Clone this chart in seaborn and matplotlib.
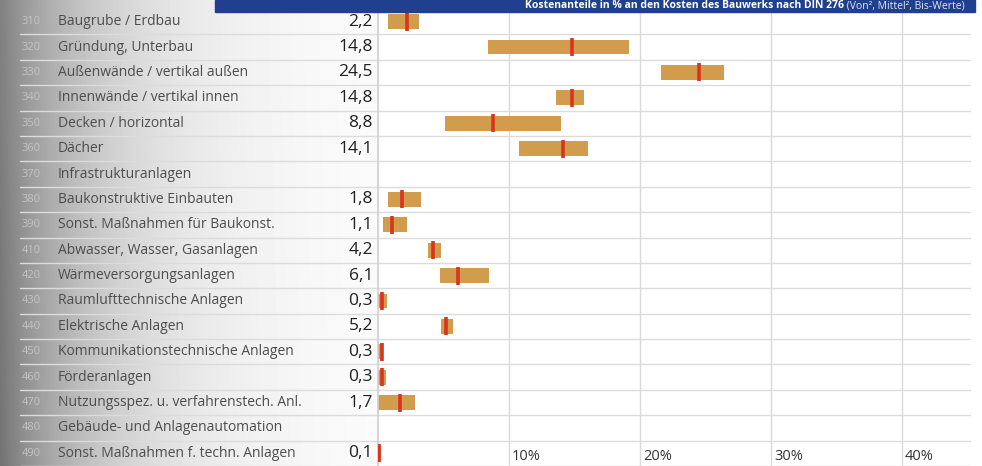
import numpy as np
import pandas as pd
import matplotlib
matplotlib.use("Agg")
import matplotlib.pyplot as plt
import seaborn as sns
from matplotlib.patches import Rectangle
from matplotlib.transforms import blended_transform_factory, ScaledTranslation

# ---------------- data ----------------
codes = ["310", "320", "330", "340", "350", "360", "370", "380", "390",
         "410", "420", "430", "440", "450", "460", "470", "480", "490"]
names = ["Baugrube / Erdbau", "Gründung, Unterbau", "Außenwände / vertikal außen",
         "Innenwände / vertikal innen", "Decken / horizontal", "Dächer",
         "Infrastrukturanlagen", "Baukonstruktive Einbauten",
         "Sonst. Maßnahmen für Baukonst.", "Abwasser, Wasser, Gasanlagen",
         "Wärmeversorgungsanlagen", "Raumlufttechnische Anlagen",
         "Elektrische Anlagen", "Kommunikationstechnische Anlagen",
         "Förderanlagen", "Nutzungsspez. u. verfahrenstech. Anl.",
         "Gebäude- und Anlagenautomation", "Sonst. Maßnahmen f. techn. Anlagen"]
nan = np.nan
von = [0.8, 8.4, 21.6, 13.6, 5.1, 10.8, nan, 0.8, 0.4, 3.8, 4.7, 0.0, 4.8, 0.0, 0.0, 0.0, nan, 0.0]
bis = [3.1, 19.2, 26.4, 15.7, 14.0, 16.0, nan, 3.3, 2.2, 4.8, 8.5, 0.65, 5.7, 0.35, 0.6, 2.8, nan, 0.2]
mittel = [2.2, 14.8, 24.5, 14.8, 8.8, 14.1, nan, 1.8, 1.1, 4.2, 6.1, 0.3, 5.2, 0.3, 0.3, 1.7, nan, 0.1]
xticks = [10, 20, 30, 40]
xtick_labels = ["10%", "20%", "30%", "40%"]
title_bold = "Kostenanteile in % an den Kosten des Bauwerks nach DIN 276"
title_light = " (Von², Mittel², Bis-Werte)"

# ---------------- frame ----------------
labels = [f"{c} {n}" for c, n in zip(codes, names)]
df = pd.DataFrame({"label": labels, "code": codes, "name": names,
                   "von": von, "bis": bis, "mittel": mittel})
df["start"] = df["von"].fillna(0.0)
df["span"] = (df["bis"] - df["von"]).fillna(0.0)

sns.set_theme(style="white")
plt.rcParams["font.family"] = ["Open Sans", "DejaVu Sans"]

W, H, DPI = 982, 466, 100
fig = plt.figure(figsize=(W / DPI, H / DPI), dpi=DPI)
fig.patch.set_facecolor("white")

# scanned-paper shading at the left
bg = fig.add_axes([0, 0, 380 / W, 1], zorder=-5)
xs = np.linspace(0, 380, 380)
ys = np.linspace(0, 1, 100)[:, None]
shade = 1 - 0.55 * np.exp(-xs[None, :] / 110) * (0.9 + 0.1 * ys)
bg.imshow(shade, cmap="gray", vmin=0, vmax=1, aspect="auto", extent=[0, 1, 0, 1])
bg.set_axis_off()

ax_left, ax_right = 378, 970
ax = fig.add_axes([ax_left / W, 0.0, (ax_right - ax_left) / W, 457 / H])
ax.set_facecolor("none")

bar_color = "#D19C4C"
red = "#D8341E"

sns.barplot(data=df, y="label", x="span", order=labels, orient="y",
            left=df["start"].to_numpy(), color=bar_color, saturation=1,
            width=0.58, errorbar=None, linewidth=0, ax=ax, zorder=2)

med = df.dropna(subset=["mittel"])
sns.scatterplot(data=med, x="mittel", y="label", marker="|", s=150,
                linewidth=2.6, color=red, ax=ax, zorder=3, legend=False)

ax.set_xlim(0, 45.2)
ax.set_ylim(len(labels) - 0.5, -0.5)
ax.set_xlabel("")
ax.set_ylabel("")
ax.set_yticks([])
for s in ["top", "right", "bottom"]:
    ax.spines[s].set_visible(False)
ax.spines["left"].set_color("#cfcfcf")
ax.spines["left"].set_linewidth(1.2)

ax.set_xticks(xticks)
ax.set_xticklabels(xtick_labels)
ax.grid(axis="x", color="#dadada", linewidth=1.0, zorder=0)
ax.set_axisbelow(True)
ax.tick_params(axis="x", length=0, pad=-12.5, labelsize=10.5, labelcolor="#333333")
for lab in ax.get_xticklabels():
    lab.set_horizontalalignment("left")
    lab.set_transform(lab.get_transform() + ScaledTranslation(3 / DPI, 0, fig.dpi_scale_trans))

# row separators (extend across label column)
axw = ax_right - ax_left
for i in range(len(labels)):
    ax.axhline(i + 0.5, xmin=-(ax_left - 20) / axw, xmax=1.0, color="#dcdcdc",
               linewidth=1.0, clip_on=False, zorder=1)

# label column
tr = blended_transform_factory(ax.transAxes, ax.transData)
for i, row in df.iterrows():
    ax.text(-(ax_left - 22) / axw, i, row["code"], transform=tr, ha="left",
            va="center", fontsize=8, color="#c4c4c4")
    ax.text(-(ax_left - 58) / axw, i, row["name"], transform=tr, ha="left",
            va="center", fontsize=10, color="#4d4d4d")
    if not np.isnan(row["mittel"]):
        ax.text(-5 / axw, i, f"{row['mittel']:.1f}".replace(".", ","),
                transform=tr, ha="right", va="center", fontsize=12.5,
                color="#1f1f1f")

# title band
band_h = 12
fig.patches.append(Rectangle((215 / W, 1 - band_h / H), (975 - 215) / W, band_h / H,
                             transform=fig.transFigure, color="#213F8F", zorder=5))
t2 = fig.text(965 / W, 1 - band_h / 2 / H, title_light, ha="right", va="center",
              fontsize=7.5, color="#dfe6f5", zorder=6)
fig.canvas.draw()
bb = t2.get_window_extent(fig.canvas.get_renderer())
fig.text(bb.x0 / W, 1 - band_h / 2 / H, title_bold, ha="right", va="center",
         fontsize=7.5, fontweight="bold", color="white", zorder=6)

fig.savefig("out.png", dpi=DPI)
